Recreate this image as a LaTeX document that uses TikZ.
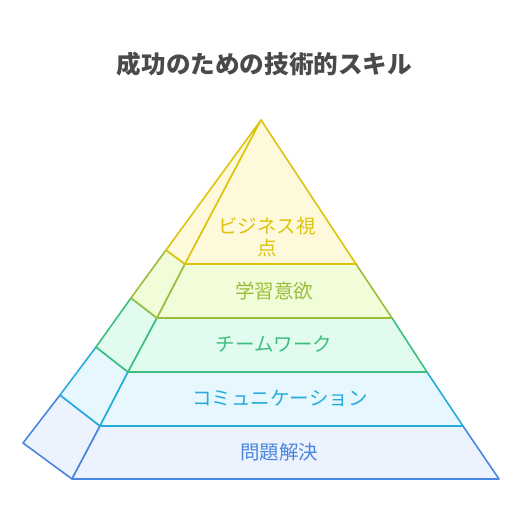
\documentclass[tikz,border=0pt]{standalone}
\usepackage{fontspec}
\setmainfont{Noto Sans CJK JP}
\definecolor{ylwline}{HTML}{DCC40E}
\definecolor{ylwfill}{HTML}{FFF9DB}
\definecolor{olvline}{HTML}{9BBD3A}
\definecolor{olvfill}{HTML}{F1FCD9}
\definecolor{grnline}{HTML}{3DBE7E}
\definecolor{grnfill}{HTML}{E1FCEE}
\definecolor{cyaline}{HTML}{26ACDC}
\definecolor{cyafill}{HTML}{E6F7FD}
\definecolor{bluline}{HTML}{4A86E0}
\definecolor{blufill}{HTML}{ECF2FE}
\definecolor{titlegray}{HTML}{4A4A4A}
\tikzset{
  layer/.style = {line width=1.6pt, line join=round},
  lbl/.style = {anchor=base, inner sep=0pt, font=\fontsize{19.5}{22.5}\selectfont}
}

\begin{document}
\begin{tikzpicture}[x=1pt, y=-1pt]
	\useasboundingbox (0,0) rectangle (528,528);
	\def \ax{261}
	\def \ay{120}

	% Title
	\node[anchor=base, inner sep=0pt, text=titlegray, font=\fontsize{24.6}{28}\bfseries\selectfont] (title) at (264.5,73) {成功のための技術的スキル};

	% Layer 5 (bottom)
	\filldraw[layer, draw=bluline, fill=blufill] (72,479) -- (23,443) -- (60,395) -- (100,426) -- cycle;
	\filldraw[layer, draw=bluline, fill=blufill] (72,479) -- (499,479) -- (463,426) -- (100,426) -- cycle;
	% Layer 4
	\filldraw[layer, draw=cyaline, fill=cyafill] (100,426) -- (60,395) -- (96,347) -- (128,372) -- cycle;
	\filldraw[layer, draw=cyaline, fill=cyafill] (100,426) -- (463,426) -- (427,372) -- (128,372) -- cycle;
	% Layer 3
	\filldraw[layer, draw=grnline, fill=grnfill] (128,372) -- (96,347) -- (131,298) -- (157,318) -- cycle;
	\filldraw[layer, draw=grnline, fill=grnfill] (128,372) -- (427,372) -- (392,318) -- (157,318) -- cycle;
	% Layer 2
	\filldraw[layer, draw=olvline, fill=olvfill] (157,318) -- (131,298) -- (166,250) -- (185,264) -- cycle;
	\filldraw[layer, draw=olvline, fill=olvfill] (157,318) -- (392,318) -- (356,264) -- (185,264) -- cycle;
	% Layer 1 (top)
	\filldraw[layer, draw=ylwline, fill=ylwfill] (185,264) -- (166,250) -- (\ax,\ay) -- cycle;
	\filldraw[layer, draw=ylwline, fill=ylwfill] (185,264) -- (356,264) -- (\ax,\ay) -- cycle;

	% Labels
	\node[lbl, text=ylwline, align=center] (vision) at (267,255.5) {ビジネス視\\点};
	\node[lbl, text=olvline] (learn) at (274,298) {学習意欲};
	\node[lbl, text=grnline] (team) at (274,351.5) {チームワーク};
	\node[lbl, text=cyaline] (comm) at (280,405) {コミュニケーション};
	\node[lbl, text=bluline] (solve) at (279,459.5) {問題解決};

\end{tikzpicture}
\end{document}
